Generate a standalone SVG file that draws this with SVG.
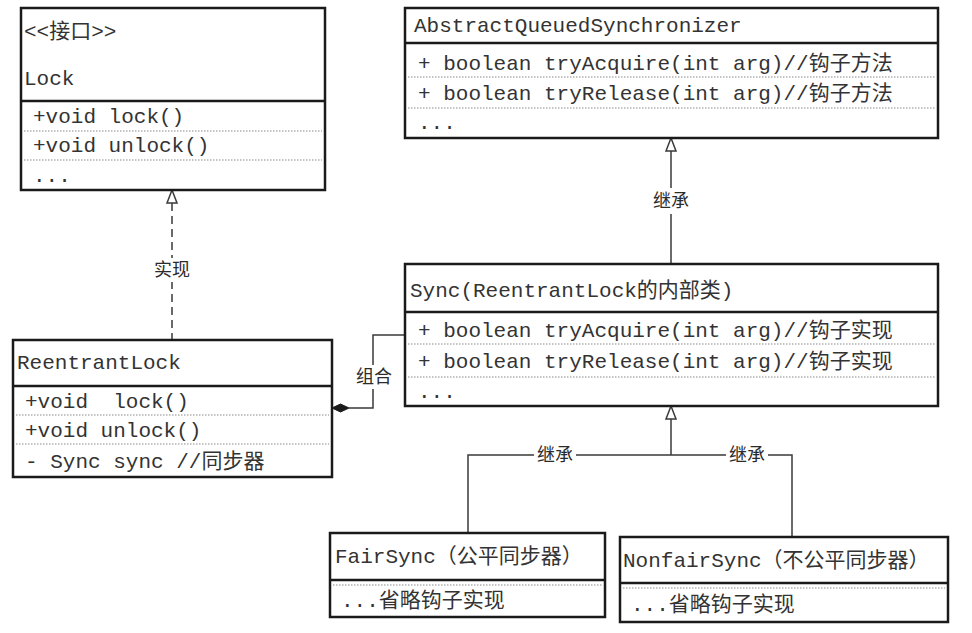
<svg xmlns="http://www.w3.org/2000/svg" width="972" height="633" viewBox="0 0 972 633">
<defs>
<style>
.box{fill:#fff;stroke:#1a1a1a;stroke-width:2.5}
.sep{stroke:#1a1a1a;stroke-width:2.5}
.dot{stroke:#8a8a8a;stroke-width:1.2;stroke-dasharray:1.5 1.5}
.t{font-family:"Liberation Mono","Noto Sans CJK SC",monospace;font-size:21px;fill:#333;white-space:pre}
.lbl{font-family:"Noto Sans CJK SC","Liberation Sans",sans-serif;font-size:18px;fill:#2b2b2b;text-anchor:middle}
.line{fill:none;stroke:#3a3a3a;stroke-width:1.5}
.dash{fill:none;stroke:#3a3a3a;stroke-width:1.5;stroke-dasharray:8 5}
.lb{fill:#fff;stroke:none}
.tri{fill:#fff;stroke:#3a3a3a;stroke-width:1.5}
</style>
</defs>
<rect width="972" height="633" fill="#fff"/>

<g id="connectors">
<!-- Lock <- ReentrantLock (realization) -->
<path class="dash" d="M172,203 L172,340"/>
<path class="tri" d="M172,190 L177,203 L167,203 Z"/>
<rect class="lb" x="152" y="258" width="40" height="24"/>
<text class="lbl" x="172" y="276">实现</text>
<!-- AQS <- Sync -->
<path class="line" d="M671,151 L671,264"/>
<path class="tri" d="M671,138 L676,151 L666,151 Z"/>
<rect class="lb" x="651" y="188" width="40" height="26"/>
<text class="lbl" x="671" y="207">继承</text>
<!-- Sync <- FairSync / NonfairSync -->
<path class="line" d="M671,419 L671,455"/>
<path class="tri" d="M671,406 L676,419 L666,419 Z"/>
<path class="line" d="M468,533 L468,455 L792,455 L792,537"/>
<rect class="lb" x="534" y="443" width="42" height="24"/>
<text class="lbl" x="555" y="461">继承</text>
<rect class="lb" x="726" y="443" width="42" height="24"/>
<text class="lbl" x="747" y="461">继承</text>
<!-- ReentrantLock <>- Sync (composition) -->
<path class="line" d="M405,335 L373,335 L373,408 L349,408"/>
<path d="M332,408 L340.5,404 L349,408 L340.5,412 Z" fill="#1a1a1a" stroke="#1a1a1a" stroke-width="1"/>
<rect class="lb" x="354" y="365" width="40" height="24"/>
<text class="lbl" x="374" y="383">组合</text>
</g>

<g id="Lock">
<rect class="box" x="21" y="8" width="304" height="182"/>
<line class="sep" x1="21" y1="101" x2="325" y2="101"/>
<line class="dot" x1="24" y1="131" x2="322" y2="131"/>
<line class="dot" x1="24" y1="160" x2="322" y2="160"/>
<text class="t" x="24" y="38">&lt;&lt;接口&gt;&gt;</text>
<text class="t" x="24" y="85">Lock</text>
<text class="t" x="33" y="123">+void lock()</text>
<text class="t" x="33" y="152">+void unlock()</text>
<text class="t" x="33" y="182">...</text>
</g>

<g id="AQS">
<rect class="box" x="405" y="8" width="533" height="130"/>
<line class="sep" x1="405" y1="43" x2="938" y2="43"/>
<line class="dot" x1="408" y1="77" x2="935" y2="77"/>
<line class="dot" x1="408" y1="108" x2="935" y2="108"/>
<text class="t" x="414" y="32">AbstractQueuedSynchronizer</text>
<text class="t" x="418" y="70">+ boolean tryAcquire(int arg)//钩子方法</text>
<text class="t" x="418" y="100">+ boolean tryRelease(int arg)//钩子方法</text>
<text class="t" x="418" y="129">...</text>
</g>

<g id="Sync">
<rect class="box" x="405" y="264" width="533" height="142"/>
<line class="sep" x1="405" y1="312" x2="938" y2="312"/>
<line class="dot" x1="408" y1="344" x2="935" y2="344"/>
<line class="dot" x1="408" y1="377" x2="935" y2="377"/>
<text class="t" x="410" y="297">Sync(ReentrantLock的内部类)</text>
<text class="t" x="418" y="337">+ boolean tryAcquire(int arg)//钩子实现</text>
<text class="t" x="418" y="368">+ boolean tryRelease(int arg)//钩子实现</text>
<text class="t" x="418" y="398">...</text>
</g>

<g id="ReentrantLock">
<rect class="box" x="13" y="340" width="319" height="137"/>
<line class="sep" x1="13" y1="386" x2="332" y2="386"/>
<line class="dot" x1="16" y1="415" x2="329" y2="415"/>
<line class="dot" x1="16" y1="444" x2="329" y2="444"/>
<text class="t" x="17" y="369">ReentrantLock</text>
<text class="t" x="25" y="408" xml:space="preserve">+void  lock()</text>
<text class="t" x="25" y="437">+void unlock()</text>
<text class="t" x="25" y="468">- Sync sync //同步器</text>
</g>

<g id="FairSync">
<rect class="box" x="330" y="533" width="275" height="84"/>
<line class="sep" x1="330" y1="580" x2="605" y2="580"/>
<line class="dot" x1="333" y1="585" x2="602" y2="585"/>
<text class="t" x="335" y="563">FairSync（公平同步器）</text>
<text class="t" x="341" y="607">...省略钩子实现</text>
</g>

<g id="NonfairSync">
<rect class="box" x="620" y="537" width="328" height="85"/>
<line class="sep" x1="620" y1="583" x2="948" y2="583"/>
<line class="dot" x1="623" y1="588" x2="945" y2="588"/>
<text class="t" x="623" y="567">NonfairSync（不公平同步器）</text>
<text class="t" x="631" y="611">...省略钩子实现</text>
</g>
</svg>
